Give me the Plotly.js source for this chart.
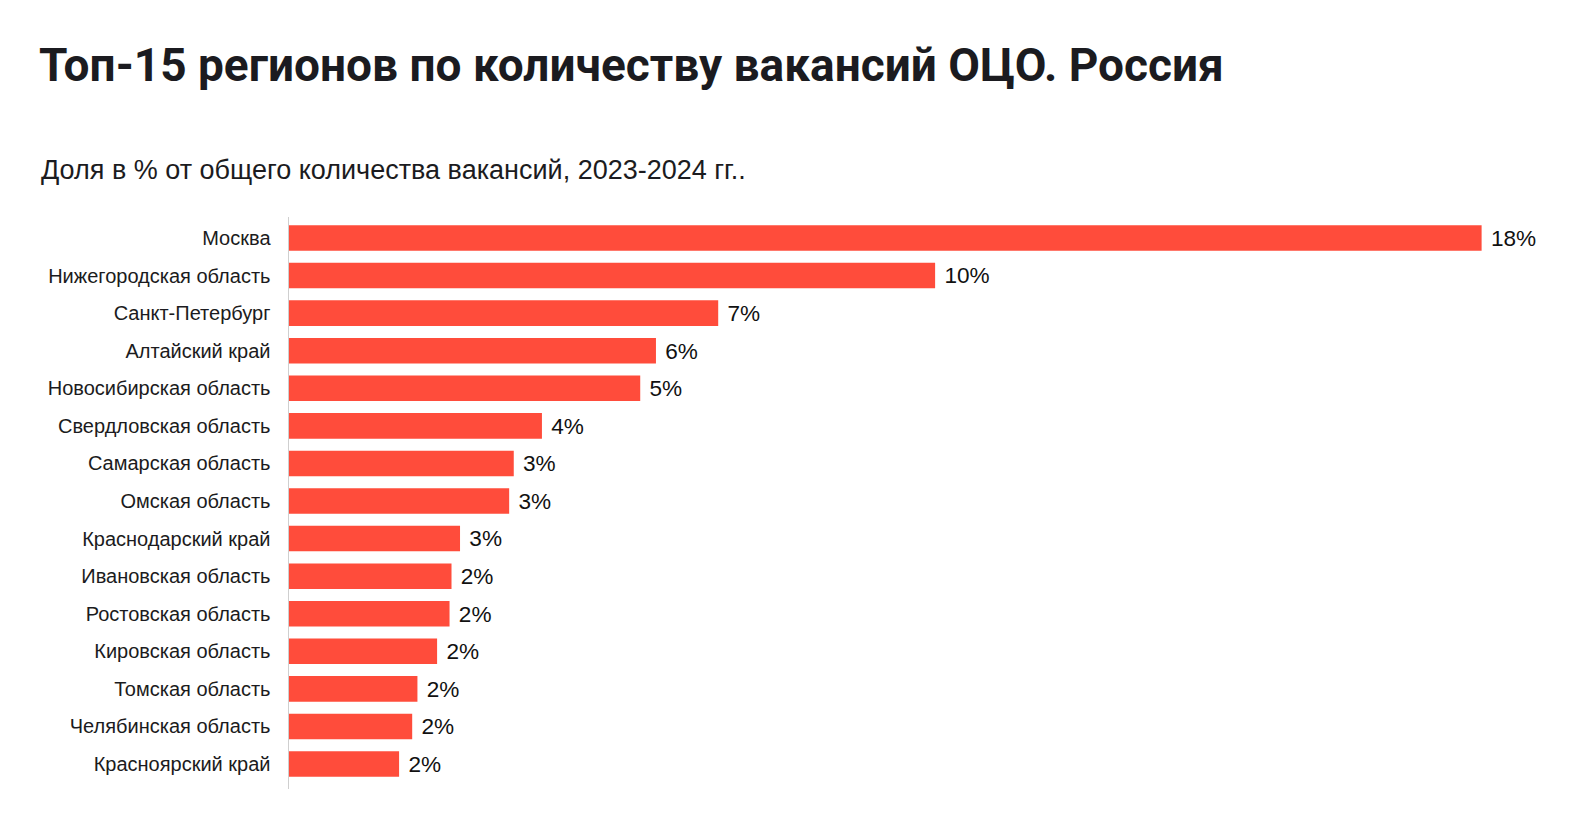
<!DOCTYPE html>
<html>
<head>
<meta charset="utf-8">
<script src="https://cdn.plot.ly/plotly-3.0.1.min.js"></script>
<style>
html,body{margin:0;padding:0;background:#fff;}
#chart{width:1595px;height:813px;}
</style>
</head>
<body>
<div id="chart"></div>
<script>
const regions = [
  "Москва",
  "Нижегородская область",
  "Санкт-Петербург",
  "Алтайский край",
  "Новосибирская область",
  "Свердловская область",
  "Самарская область",
  "Омская область",
  "Краснодарский край",
  "Ивановская область",
  "Ростовская область",
  "Кировская область",
  "Томская область",
  "Челябинская область",
  "Красноярский край"
];
const shares = [18.2, 9.86, 6.55, 5.6, 5.36, 3.86, 3.43, 3.36, 2.61, 2.48, 2.45, 2.26, 1.96, 1.88, 1.68];

const titleText = "Топ-15 регионов по количеству вакансий ОЦО. Россия";
const subtitleText = "Доля в % от общего количества вакансий, 2023-2024 гг..";

const W = 1595, H = 813;
const plotTop = 217, plotBottom = 789, plotLeft = 289, plotRight = 1555;
const sansFont = "'Liberation Sans', Arial, sans-serif";

const trace = {
  type: 'bar',
  orientation: 'h',
  x: shares,
  y: regions,
  marker: {color: '#ff4c3b', line: {width: 0}},
  width: 0.68,
  texttemplate: '\u00A0%{x:.0f}%',
  textposition: 'outside',
  textfont: {family: sansFont, size: 23, color: '#111'},
  cliponaxis: false,
  hoverinfo: 'skip'
};

const layout = {
  width: W, height: H,
  paper_bgcolor: '#fff', plot_bgcolor: '#fff',
  font: {family: sansFont},
  margin: {l: plotLeft, r: W - plotRight, t: plotTop, b: H - plotBottom, pad: 0},
  showlegend: false,
  title: {
    text: '<b>' + titleText + '</b>',
    font: {family: "Roboto, sans-serif", size: 46, color: '#1b1b20'},
    x: 39 / W, xanchor: 'left', xref: 'container',
    y: 1 - 49 / H, yanchor: 'top', yref: 'container'
  },
  annotations: [{
    text: subtitleText,
    xref: 'paper', yref: 'paper',
    x: (39 - plotLeft) / (plotRight - plotLeft), xanchor: 'left',
    y: 1 + (plotTop - 170) / (plotBottom - plotTop), yanchor: 'middle',
    showarrow: false,
    font: {family: sansFont, size: 27, color: '#1b1b20'}
  }],
  xaxis: {
    range: [0, 19.32],
    visible: false,
    fixedrange: true
  },
  yaxis: {
    type: 'category',
    autorange: false,
    range: [14.665, -0.559],
    showline: true, linecolor: '#cfcfcf', linewidth: 1.5,
    showgrid: false, zeroline: false,
    ticks: '',
    ticklabelstandoff: 13,
    tickfont: {family: sansFont, size: 20, color: '#1b1b20'},
    fixedrange: true
  },
  bargap: 0.32
};

Plotly.newPlot('chart', [trace], layout, {displayModeBar: false, staticPlot: true});
</script>
</body>
</html>
